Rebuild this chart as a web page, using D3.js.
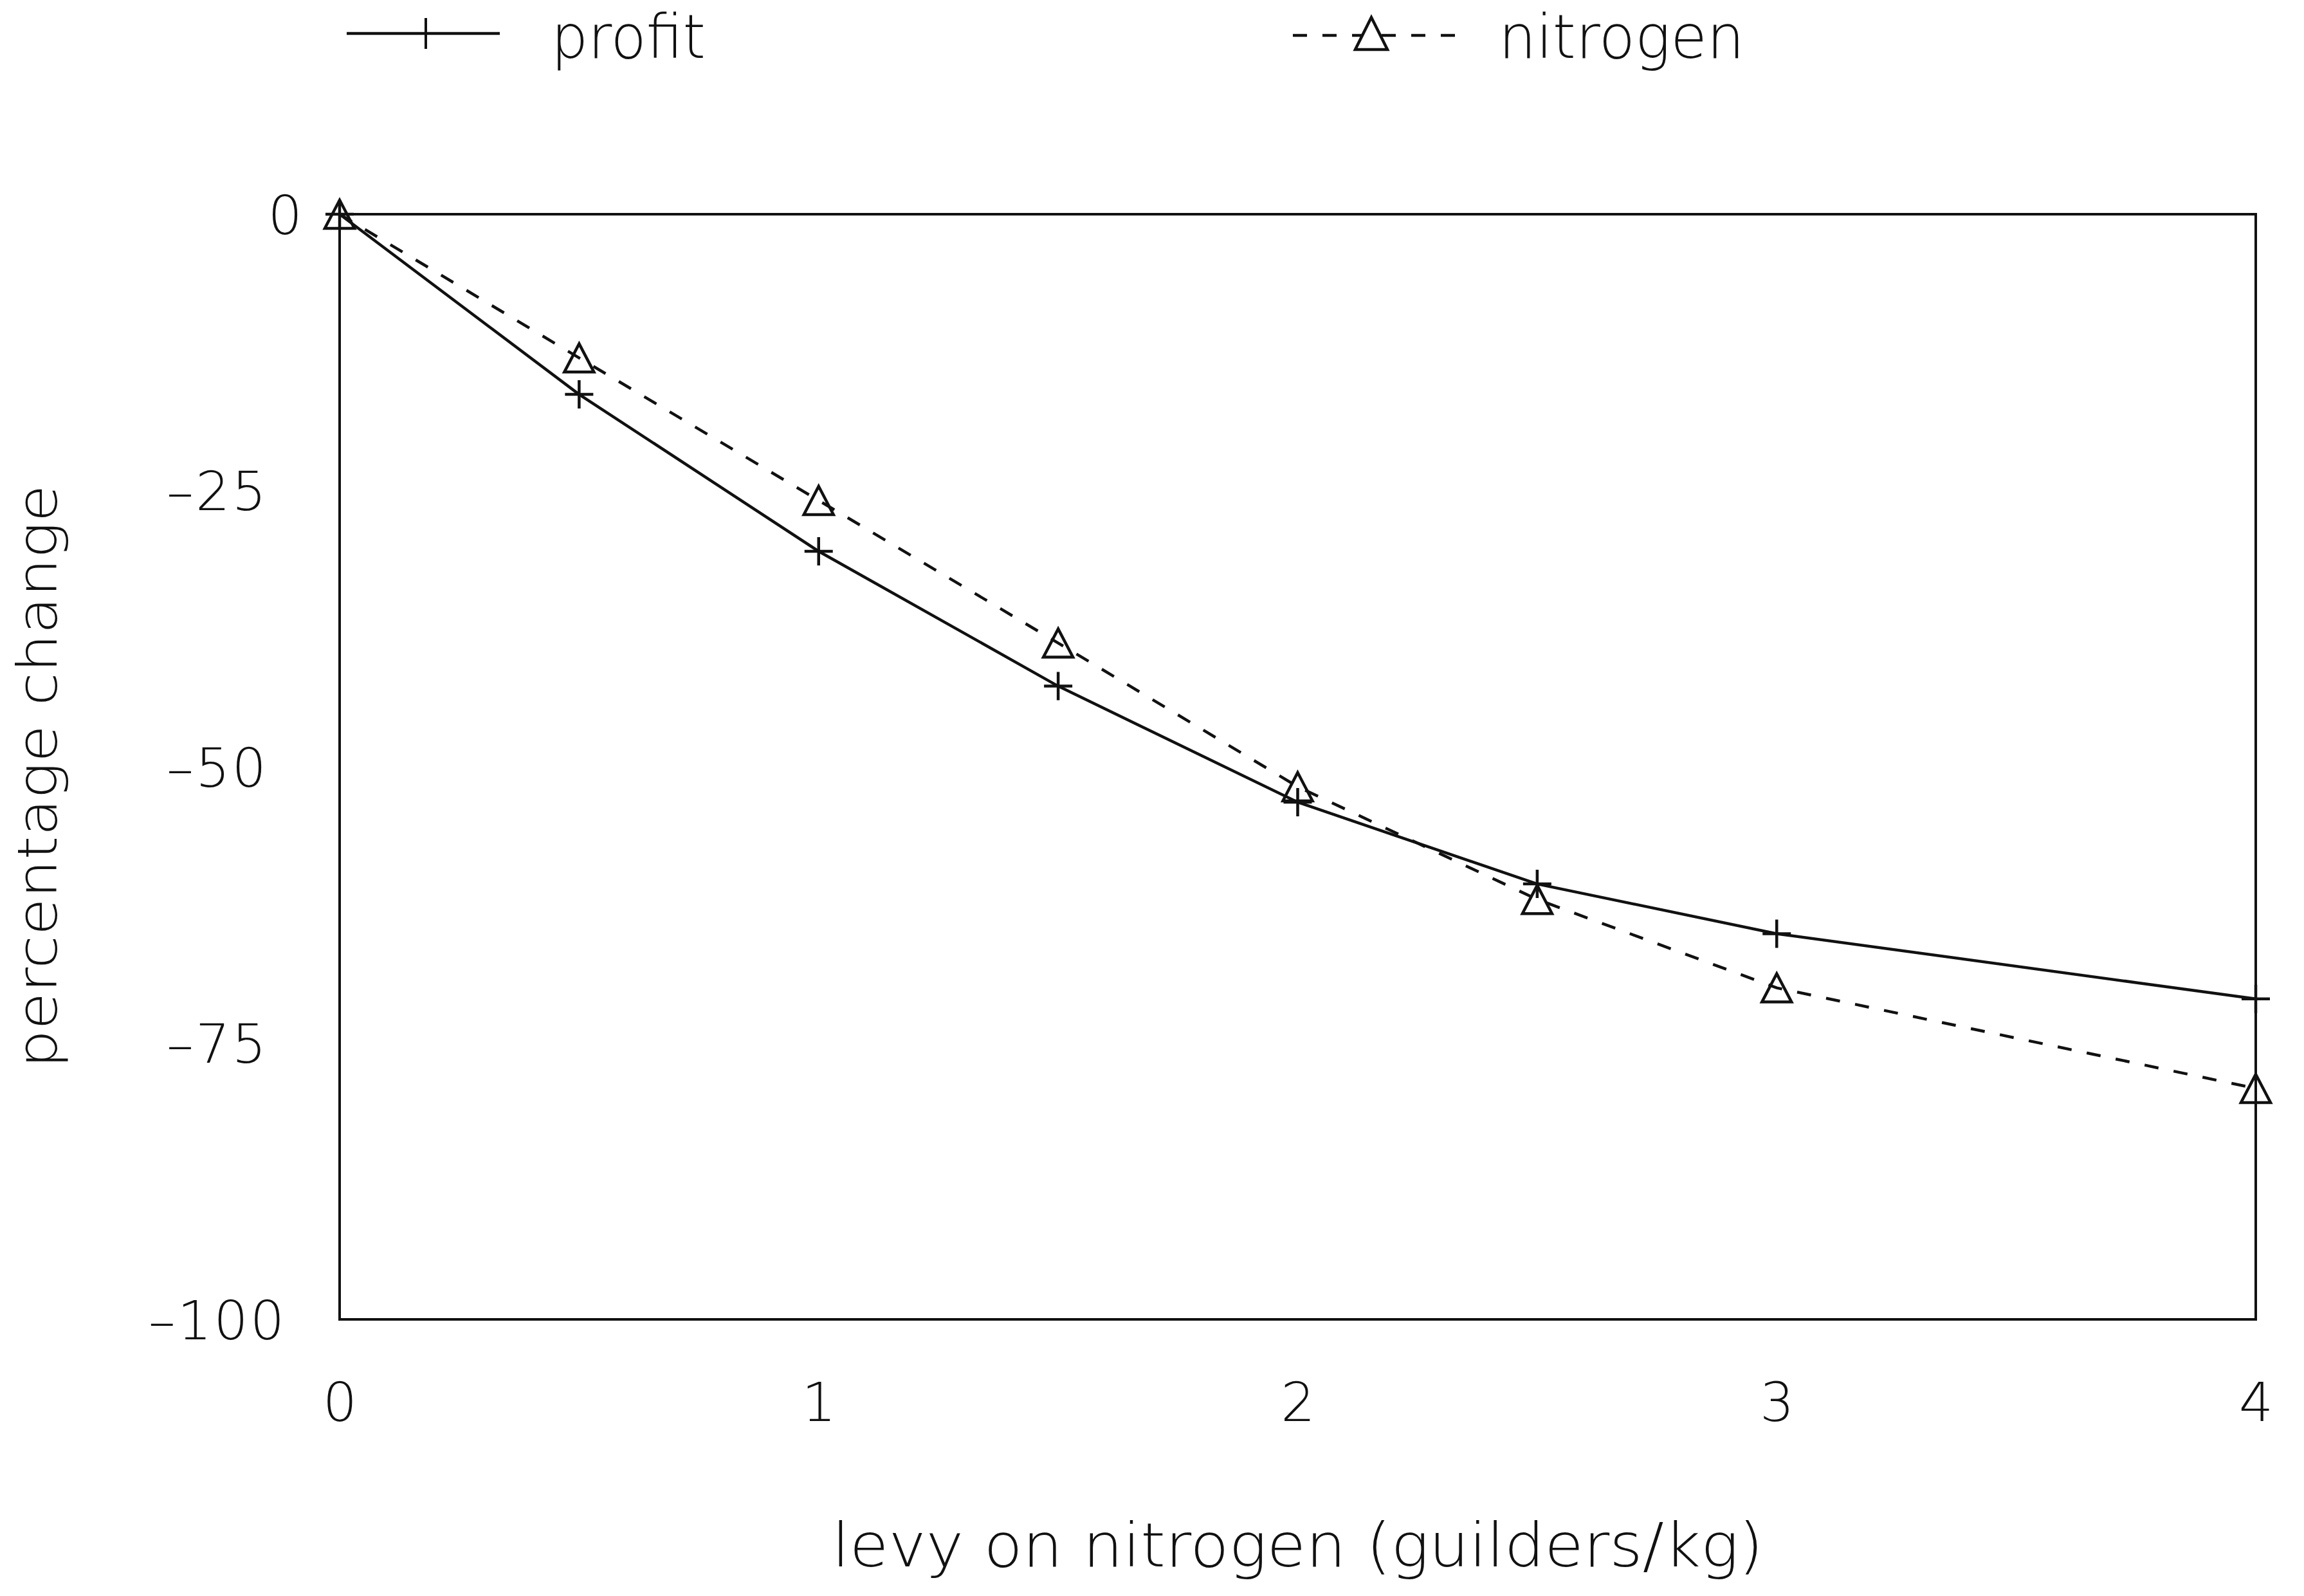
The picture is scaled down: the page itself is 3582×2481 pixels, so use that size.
<!DOCTYPE html>
<html>
<head>
<meta charset="utf-8">
<script src="https://cdn.jsdelivr.net/npm/d3@7"></script>
<style>
  html, body { margin: 0; padding: 0; background: #fff; }
  svg { display: block; }
  text { font-family: "DejaVu Sans", "Liberation Sans", sans-serif; font-weight: 200; fill: #111; }
</style>
</head>
<body>
<script>
// Levy on nitrogen (guilders/kg) and the resulting percentage changes
const levy = [0, 0.5, 1, 1.5, 2, 2.5, 3, 4];
const profit = [0, -16.3, -30.5, -42.7, -53.2, -60.6, -65.1, -71.0];
const nitrogen = [0, -13.0, -25.9, -38.8, -51.8, -62.0, -70.0, -79.1];
const xTicks = [0, 1, 2, 3, 4];
const yTicks = [0, -25, -50, -75, -100];
const seriesNames = ["profit", "nitrogen"];

const W = 3582, H = 2481;
const plot = { left: 528, right: 3507, top: 333, bottom: 2051 };
const tickFs = 84;
const titleFs = 95;
const ink = "#111";

// integer labels with a short dash as the minus sign
const intFormat = d3.formatLocale({
  decimal: ".", thousands: ",", grouping: [3], currency: ["", ""], minus: "\u2013"
}).format("d");

const svg = d3.select("body").append("svg")
  .attr("width", W).attr("height", H)
  .attr("viewBox", `0 0 ${W} ${H}`);

svg.append("rect").attr("width", W).attr("height", H).attr("fill", "#fff");

const x = d3.scaleLinear().domain([0, 4]).range([plot.left, plot.right]);
const y = d3.scaleLinear().domain([-100, 0]).range([plot.bottom, plot.top]);

// Y axis numbers: the zero sits next to the axis, the negatives share a centre column
const yAxis = svg.append("g")
  .attr("transform", `translate(${plot.left},0)`)
  .call(d3.axisLeft(y).tickValues(yTicks).tickSize(0).tickPadding(55).tickFormat(intFormat));
yAxis.select(".domain").remove();
yAxis.selectAll("text")
  .attr("font-size", tickFs).attr("font-family", null)
  .attr("letter-spacing", 3)
  .attr("text-anchor", d => d === 0 ? "end" : "middle")
  .attr("x", d => d === 0 ? -55 : -(plot.left - 338))
  .attr("dy", "0.36em");

const xAxis = svg.append("g")
  .attr("transform", `translate(0,${plot.bottom})`)
  .call(d3.axisBottom(x).tickValues(xTicks).tickSize(0).tickPadding(98).tickFormat(intFormat));
xAxis.select(".domain").remove();
xAxis.selectAll("text").attr("font-size", tickFs).attr("font-family", null);

// Plot frame
svg.append("rect")
  .attr("x", plot.left).attr("y", plot.top)
  .attr("width", plot.right - plot.left).attr("height", plot.bottom - plot.top)
  .attr("fill", "none").attr("stroke", ink).attr("stroke-width", 4);

// Axis titles
svg.append("text")
  .attr("x", x(2)).attr("y", 2435)
  .attr("text-anchor", "middle")
  .attr("font-size", titleFs)
  .attr("textLength", 1448).attr("lengthAdjust", "spacingAndGlyphs")
  .text("levy on nitrogen (guilders/kg)");

svg.append("text")
  .attr("transform", `translate(88,1207) rotate(-90)`)
  .attr("text-anchor", "middle")
  .attr("font-size", 86)
  .attr("textLength", 907).attr("lengthAdjust", "spacingAndGlyphs")
  .text("percentage change");

// Marker shapes
const plusPath = (s) => `M${-s},0H${s}M0,${-s}V${s}`;
const triPath = (w, h) => `M0,${-h / 2}L${w / 2},${h / 2}L${-w / 2},${h / 2}Z`;

const line = d3.line().x(d => x(d[0])).y(d => y(d[1]));
const profitPts = levy.map((v, i) => [v, profit[i]]);
const nitroPts = levy.map((v, i) => [v, nitrogen[i]]);

// nitrogen: dashed line with open triangles
svg.append("path")
  .attr("d", line(nitroPts))
  .attr("fill", "none").attr("stroke", ink)
  .attr("stroke-width", 4.5).attr("stroke-dasharray", "22,24");
svg.selectAll(".tri").data(nitroPts).join("path")
  .attr("class", "tri")
  .attr("transform", d => `translate(${x(d[0])},${y(d[1])})`)
  .attr("d", triPath(46, 44))
  .attr("fill", "none").attr("stroke", ink).attr("stroke-width", 4.5);

// profit: solid line with plus markers
svg.append("path")
  .attr("d", line(profitPts))
  .attr("fill", "none").attr("stroke", ink).attr("stroke-width", 4.5);
svg.selectAll(".plus").data(profitPts).join("path")
  .attr("class", "plus")
  .attr("transform", d => `translate(${x(d[0])},${y(d[1])})`)
  .attr("d", plusPath(22))
  .attr("fill", "none").attr("stroke", ink).attr("stroke-width", 4.5);

// Legend
const legend = svg.append("g");
// profit entry
legend.append("line")
  .attr("x1", 539).attr("x2", 777).attr("y1", 52).attr("y2", 52)
  .attr("stroke", ink).attr("stroke-width", 4.5);
legend.append("path")
  .attr("transform", "translate(662,52)")
  .attr("d", plusPath(24))
  .attr("fill", "none").attr("stroke", ink).attr("stroke-width", 4);
legend.append("text")
  .attr("x", 857).attr("y", 90)
  .attr("font-size", titleFs)
  .attr("textLength", 240).attr("lengthAdjust", "spacingAndGlyphs")
  .text(seriesNames[0]);
// nitrogen entry
legend.append("line")
  .attr("x1", 2010).attr("x2", 2262).attr("y1", 55).attr("y2", 55)
  .attr("stroke", ink).attr("stroke-width", 4.5).attr("stroke-dasharray", "22,24");
legend.append("path")
  .attr("transform", "translate(2132,52)")
  .attr("d", triPath(50, 50))
  .attr("fill", "#fff").attr("stroke", ink).attr("stroke-width", 4.5);
legend.append("text")
  .attr("x", 2330).attr("y", 90)
  .attr("font-size", titleFs)
  .attr("textLength", 382).attr("lengthAdjust", "spacingAndGlyphs")
  .text(seriesNames[1]);
</script>
</body>
</html>
